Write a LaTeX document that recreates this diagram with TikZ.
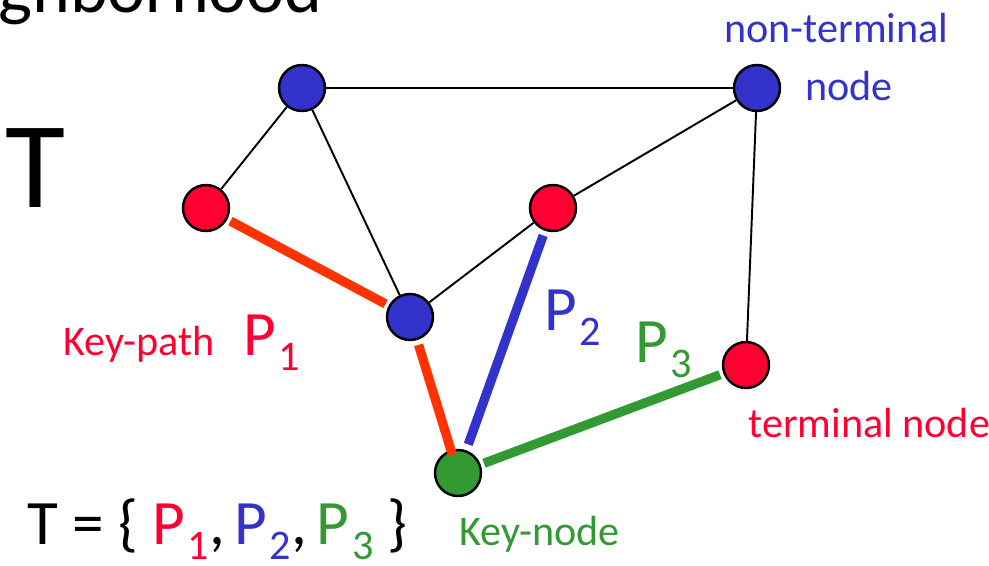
\documentclass[tikz,border=0pt]{standalone}
\usepackage{fontspec}
\setmainfont{Carlito}
\usetikzlibrary{positioning}
\definecolor{termred}{HTML}{FF0033}
\definecolor{keyorange}{HTML}{FF3300}
\definecolor{pathblue}{HTML}{3333CC}
\definecolor{pathgreen}{HTML}{339933}
\newcommand{\pth}[1]{P\kern1.5pt\raisebox{-9pt}{\fontsize{24}{28}\selectfont #1}}
\tikzset{
  vertex/.style={circle,draw=black,line width=1.4pt,minimum size=0.92cm,inner sep=0pt},
  nonterm/.style={vertex,fill=pathblue},
  term/.style={vertex,fill=termred},
  keyv/.style={vertex,fill=pathgreen},
  edge/.style={line width=1.1pt},
  keypath/.style={line width=5.3pt,shorten <=2pt,shorten >=2pt},
  lbl/.style={inner sep=0pt,anchor=base west,font=\fontsize{24}{28}\selectfont},
  big/.style={inner sep=0pt,anchor=base west,font=\fontsize{36}{40}\selectfont}
}

\begin{document}
\begin{tikzpicture}[x=0.02cm,y=-0.02cm]
\useasboundingbox (0,0) rectangle (989,565);
\begin{scope}
\clip (0,0) rectangle (989,565);
\node[inner sep=0pt,anchor=base west,font=\fontsize{41}{45}\selectfont] (head) at (-2,12) {ghborhood};
\end{scope}
\node[inner sep=0pt,anchor=base west,font=\fontsize{70}{74}\selectfont] (bigT) at (5,207) {T};

\node[nonterm] (nA) at (302,88) {};
\node[nonterm] (nB) at (757,88) {};
\node[term] (tC) at (206,208) {};
\node[term] (tD) at (553,208) {};
\node[nonterm] (nE) at (410,317) {};
\node[term] (tF) at (746,365) {};
\node[keyv] (key) at (458,473) {};

\draw[edge] (nA) -- (nB);
\draw[edge] (nA) -- (tC);
\draw[edge] (nA) -- (nE);
\draw[edge] (nB) -- (tD);
\draw[edge] (tD) -- (nE);
\draw[edge] (nB) -- (tF);

\draw[keypath,keyorange] (tC) -- (nE);
\draw[keypath,keyorange,shorten <=2.8pt,shorten >=-3pt] (nE) -- (key);
\draw[keypath,pathblue,shorten <=2.8pt,shorten >=3.5pt] (tD) -- (key);
\draw[keypath,pathgreen] (key) -- (tF);

\node[lbl,pathblue] (ntlab) at (724,42) {non-terminal};
\node[lbl,pathblue] (ntlab2) at (805,100) {node};
\node[lbl,termred] (kplab) at (63,355) {Key-path};
\node[big,termred] (p1) at (243,355) {\pth{1}};
\node[big,pathblue] (p2) at (544,330) {\pth{2}};
\node[big,pathgreen] (p3) at (635,362) {\pth{3}};
\node[lbl,termred] (tlab) at (748,437) {terminal node};
\node[lbl,pathgreen] (klab) at (459,545) {Key-node};
\node[big] (tset) at (27,544) {T = \{ \textcolor{termred}{\pth{1}},\kern5.5pt\textcolor{pathblue}{\pth{2}},\kern5.5pt\textcolor{pathgreen}{\pth{3}} \}};
\end{tikzpicture}
\end{document}
